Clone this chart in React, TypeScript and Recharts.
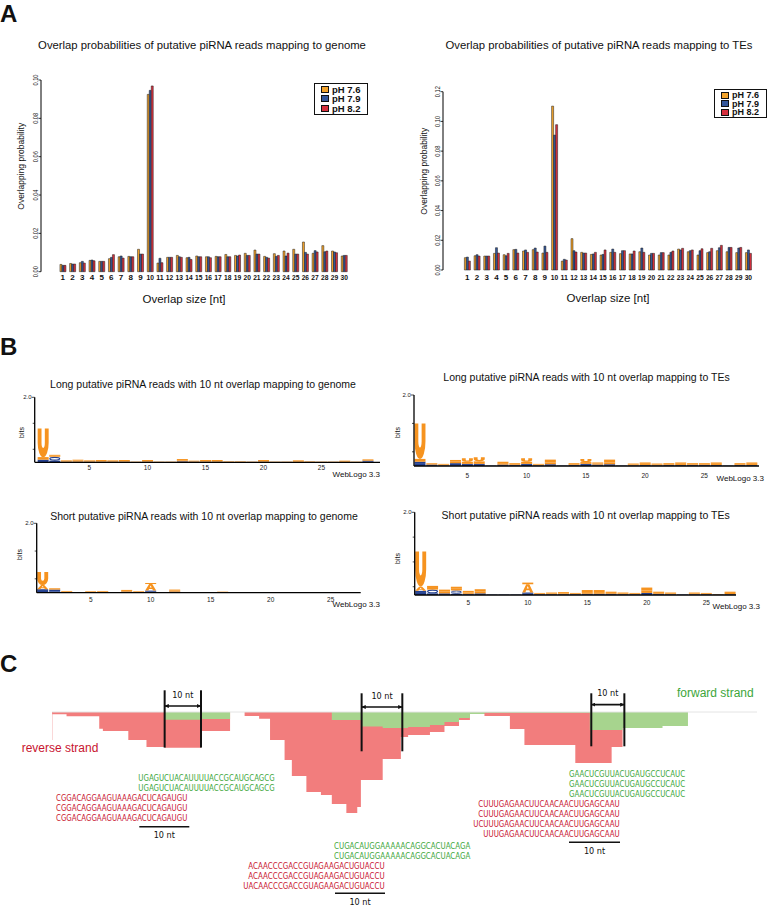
import React from 'react';
import { BarChart, Bar, XAxis, YAxis, Legend, AreaChart, Area, ReferenceLine } from 'recharts';

const SANS = '"Liberation Sans", Arial, Helvetica, sans-serif';
const NARROW = '"Liberation Sans Narrow", "DejaVu Sans Condensed", "Liberation Sans", sans-serif';

// ---------- A: overlap probabilities ----------
const overlapSizes = [1, 2, 3, 4, 5, 6, 7, 8, 9, 10, 11, 12, 13, 14, 15, 16, 17, 18, 19, 20, 21, 22, 23, 24, 25, 26, 27, 28, 29, 30];

const genomePH76 = [0.0038, 0.0043, 0.0047, 0.0059, 0.0054, 0.0068, 0.0078, 0.008, 0.0117, 0.0925, 0.0045, 0.0075, 0.0085, 0.0073, 0.0082, 0.0078, 0.008, 0.009, 0.0085, 0.0096, 0.0113, 0.008, 0.0094, 0.0108, 0.0117, 0.0155, 0.0096, 0.0136, 0.0108, 0.0082];
const genomePH79 = [0.0033, 0.004, 0.0054, 0.0061, 0.0054, 0.0075, 0.0082, 0.0078, 0.0092, 0.0946, 0.007, 0.0075, 0.0078, 0.0075, 0.0078, 0.0078, 0.0078, 0.0078, 0.0082, 0.0085, 0.0092, 0.0075, 0.008, 0.0082, 0.0092, 0.0101, 0.011, 0.0104, 0.0103, 0.0085];
const genomePH82 = [0.0033, 0.004, 0.0045, 0.0057, 0.0054, 0.0089, 0.0071, 0.0078, 0.0092, 0.0969, 0.0047, 0.0075, 0.0075, 0.0064, 0.0078, 0.0073, 0.0078, 0.0078, 0.0087, 0.0085, 0.0092, 0.0071, 0.0085, 0.0097, 0.0092, 0.0092, 0.0103, 0.0108, 0.0099, 0.0085];

const tePH76 = [0.0083, 0.0096, 0.0094, 0.0112, 0.0103, 0.0137, 0.0128, 0.0137, 0.0114, 0.1103, 0.006, 0.0211, 0.0119, 0.0105, 0.0101, 0.0119, 0.011, 0.0108, 0.0123, 0.0101, 0.0101, 0.0101, 0.0141, 0.0123, 0.0101, 0.0117, 0.013, 0.0123, 0.0117, 0.0117];
const tePH79 = [0.0087, 0.0103, 0.0094, 0.015, 0.0096, 0.0139, 0.0135, 0.0148, 0.0161, 0.0908, 0.0072, 0.013, 0.0114, 0.0108, 0.0105, 0.0141, 0.013, 0.0108, 0.0148, 0.0112, 0.0117, 0.0119, 0.0135, 0.013, 0.013, 0.0123, 0.015, 0.0152, 0.0148, 0.0135];
const tePH82 = [0.006, 0.0094, 0.0094, 0.0114, 0.0112, 0.0114, 0.0119, 0.0121, 0.0119, 0.0978, 0.0067, 0.0121, 0.0114, 0.0119, 0.0135, 0.0119, 0.013, 0.0128, 0.0119, 0.0112, 0.0117, 0.0128, 0.0146, 0.0135, 0.0143, 0.0146, 0.0166, 0.0152, 0.0152, 0.0112];

const phNames = ['pH 7.6', 'pH 7.9', 'pH 8.2'];
const phColors = ['#F2A32C', '#34579A', '#D6303E'];

const genomeTicks = [0, 0.02, 0.04, 0.06, 0.08, 0.1];
const teTicks = [0, 0.02, 0.04, 0.06, 0.08, 0.1, 0.12];

// ---------- B: sequence logos (bits per letter) ----------
const longPositions = [1, 2, 3, 4, 5, 6, 7, 8, 9, 10, 11, 12, 13, 14, 15, 16, 17, 18, 19, 20, 21, 22, 23, 24, 25, 26, 27, 28, 29];
const shortPositions = [1, 2, 3, 4, 5, 6, 7, 8, 9, 10, 11, 12, 13, 14, 15, 16, 17, 18, 19, 20, 21, 22, 23, 24, 25, 26, 27];
const logoTicks = [5, 10, 15, 20, 25];
const bitsTicks = [0, 0.2, 0.4, 0.6, 0.8, 1, 1.2, 1.4, 1.6, 1.8, 2];

const longGenomeU = [0.88, 0.03, 0.02, 0.03, 0.02, 0.03, 0.02, 0.03, 0.01, 0.03, 0.01, 0.01, 0.04, 0.02, 0.03, 0.03, 0.01, 0.01, 0.01, 0.03, 0.01, 0.01, 0.03, 0.01, 0.01, 0.01, 0.02, 0.01, 0.02];
const longGenomeA = [0.08, 0.03, 0.02, 0.03, 0.02, 0.02, 0.02, 0.02, 0, 0.02, 0, 0, 0.03, 0.01, 0.02, 0.02, 0.01, 0.01, 0, 0.02, 0, 0, 0.02, 0.01, 0, 0, 0.02, 0, 0.02];
const longGenomeG = [0.04, 0.12, 0.01, 0.01, 0.01, 0.01, 0.01, 0.01, 0.01, 0.01, 0.01, 0.01, 0.02, 0.01, 0.01, 0.01, 0.01, 0.01, 0.01, 0.01, 0.01, 0.01, 0.01, 0.01, 0.01, 0.01, 0.01, 0.01, 0.03];
const longGenomeC = [0.04, 0.05, 0.01, 0.01, 0.01, 0.01, 0.01, 0.01, 0, 0.01, 0, 0, 0.01, 0.01, 0.01, 0.01, 0, 0, 0, 0.01, 0, 0, 0, 0, 0, 0, 0, 0, 0.02];

const longTeU = [1.0, 0.02, 0.02, 0.05, 0.1, 0.12, 0, 0.04, 0.03, 0.1, 0.02, 0.08, 0, 0.03, 0.09, 0.03, 0.08, 0, 0.03, 0.04, 0.03, 0.03, 0.04, 0.03, 0.03, 0.04, 0, 0.03, 0.04];
const longTeA = [0.08, 0.02, 0.02, 0.04, 0.06, 0.07, 0, 0.04, 0.02, 0.06, 0.02, 0.05, 0, 0.02, 0.05, 0.03, 0.05, 0, 0.02, 0.03, 0.02, 0.02, 0.03, 0.02, 0.02, 0.03, 0, 0.02, 0.03];
const longTeG = [0.06, 0.02, 0.01, 0.06, 0.03, 0.03, 0, 0.02, 0.02, 0.03, 0.01, 0.03, 0, 0.02, 0.03, 0.02, 0.03, 0, 0.01, 0.02, 0.01, 0.02, 0.02, 0.02, 0.02, 0.02, 0, 0.02, 0.02];
const longTeC = [0.06, 0.02, 0.01, 0.02, 0.03, 0.03, 0.01, 0.02, 0.01, 0.03, 0.01, 0.02, 0.01, 0.01, 0.03, 0.02, 0.02, 0.01, 0.01, 0.01, 0.01, 0.01, 0.01, 0.01, 0.01, 0.01, 0.01, 0.01, 0.01];

const shortGenomeU = [0.38, 0.02, 0.02, 0.01, 0.02, 0.02, 0.01, 0.03, 0.02, 0.03, 0.01, 0.03, 0.01, 0.01, 0.01, 0.01, 0.01, 0, 0, 0, 0, 0, 0, 0, 0, 0, 0];
const shortGenomeA = [0.12, 0.02, 0.02, 0, 0.01, 0.02, 0, 0.02, 0.01, 0.19, 0, 0.03, 0, 0, 0, 0.01, 0, 0, 0, 0, 0, 0, 0, 0, 0, 0, 0];
const shortGenomeG = [0.05, 0.05, 0.01, 0.01, 0.01, 0.01, 0.01, 0.02, 0.01, 0.03, 0.01, 0.02, 0.01, 0.01, 0.01, 0.01, 0.01, 0.01, 0.01, 0.01, 0.01, 0.01, 0.01, 0.01, 0.01, 0.01, 0.01];
const shortGenomeC = [0.05, 0.04, 0, 0, 0, 0, 0, 0.01, 0, 0.03, 0, 0.01, 0, 0, 0, 0, 0, 0, 0, 0, 0, 0, 0, 0, 0, 0, 0];

const shortTeU = [0.85, 0.05, 0.05, 0.05, 0.04, 0.06, 0, 0, 0, 0.04, 0.02, 0.02, 0.03, 0.02, 0.05, 0.05, 0.03, 0.02, 0.02, 0.07, 0.03, 0.02, 0, 0.02, 0.02, 0.01, 0.03];
const shortTeA = [0.1, 0.04, 0.04, 0.04, 0.03, 0.04, 0, 0, 0, 0.2, 0.01, 0.02, 0.02, 0.01, 0.04, 0.04, 0.02, 0.02, 0.01, 0.06, 0.02, 0.02, 0, 0.02, 0.01, 0, 0.03];
const shortTeG = [0.05, 0.09, 0.02, 0.08, 0.02, 0.02, 0.01, 0.01, 0.01, 0.03, 0.01, 0.01, 0.01, 0.01, 0.02, 0.02, 0.02, 0.01, 0.01, 0.03, 0.02, 0.01, 0.01, 0.01, 0.01, 0.01, 0.01];
const shortTeC = [0.05, 0.04, 0.02, 0.03, 0.01, 0.02, 0, 0, 0, 0.03, 0.01, 0.01, 0.01, 0.01, 0.01, 0.01, 0.01, 0.01, 0.01, 0.02, 0.01, 0.01, 0, 0.01, 0.01, 0, 0.01];

// ---------- C: read coverage (nt position, read depth) ----------
const coveragePos = [0, 4, 13, 14, 21, 26, 31, 41, 49, 53, 57, 60, 64, 66, 70, 74, 77, 81, 84, 85, 91, 96, 98, 104, 108, 112, 115, 119, 126, 130, 144, 148, 154, 157, 168, 175, 194];
const reverseDepth = [2.3, 4.3, 16.7, 19, 28, 35, 35.7, 19, 0, 4, 6.7, 28, 48, 64, 80, 83, 92, 101, 95, 68, 47, 25, 23, 20, 14, 8, 2, 4, 17, 33, 51, 51, 35, 0, 0, 0, 0];
const forwardDepth = [0, 0, 0, 0, 0, 0, 7.7, 7, 0, 0, 0, 0, 0, 0, 0, 0, 8, 8, 8, 14.5, 16, 16, 15, 13, 10, 6, 2, 0.7, 0.7, 0.7, 0.7, 18, 18, 16, 14, 0, 0];
const overlapStart = [31, 85.2, 148.4];
const overlapEnd = [41, 96.4, 157.5];

const reads1Forward = ['UGAGUCUACAUUUUACCGCAUGCAGCG', 'UGAGUCUACAUUUUACCGCAUGCAGCG'];
const reads1Reverse = ['CGGACAGGAAGUAAAGACUCAGAUGU', 'CGGACAGGAAGUAAAGACUCAGAUGU', 'CGGACAGGAAGUAAAGACUCAGAUGU'];
const reads2Forward = ['CUGACAUGGAAAAACAGGCACUACAGA', 'CUGACAUGGAAAAACAGGCACUACAGA'];
const reads2Reverse = ['ACAACCCGACCGUAGAAGACUGUACCU', 'ACAACCCGACCGUAGAAGACUGUACCU', 'UACAACCCGACCGUAGAAGACUGUACCU'];
const reads3Forward = ['GAACUCGUUACUGAUGCCUCAUC', 'GAACUCGUUACUGAUGCCUCAUC', 'GAACUCGUUACUGAUGCCUCAUC'];
const reads3Reverse = ['CUUUGAGAACUUCAACAACUUGAGCAAU', 'CUUUGAGAACUUCAACAACUUGAGCAAU', 'UCUUUGAGAACUUCAACAACUUGAGCAAU', 'UUUGAGAACUUCAACAACUUGAGCAAU'];

const ORANGE = '#F6931F';
const BLUE = '#24408F';
const RED_TXT = '#C8142F';
const GREEN_TXT = '#3DA63A';

const Abs = ({ left, top, children, style }: any) => (
  <div style={{ position: 'absolute', left, top, lineHeight: 1, whiteSpace: 'nowrap', ...style }}>{children}</div>
);

const Centered = ({ cx, top, size, children }: any) => (
  <div style={{ position: 'absolute', left: cx - 250, width: 500, top, textAlign: 'center', fontSize: size, lineHeight: 1, whiteSpace: 'nowrap', color: '#111' }}>{children}</div>
);

const RightText = ({ right, top, size, children }: any) => (
  <div style={{ position: 'absolute', left: right - 120, width: 120, top, textAlign: 'right', fontSize: size, lineHeight: 1, whiteSpace: 'nowrap', color: '#111' }}>{children}</div>
);

const VLabel = ({ cx, cy, size, children }: any) => (
  <div style={{ position: 'absolute', left: cx - 100, top: cy - size / 2, width: 200, height: size, lineHeight: `${size}px`, textAlign: 'center', fontSize: size, transform: 'rotate(-90deg)', color: '#111', whiteSpace: 'nowrap' }}>{children}</div>
);

const RotTick = (props: any) => {
  const { x, y, payload } = props;
  return (
    <g>
      <line x1={x} x2={x - 2.5} y1={y} y2={y} stroke="#000" strokeWidth={0.8} />
      <text x={x - 2.7} y={y} transform={`rotate(-90, ${x - 2.7}, ${y})`} textAnchor="middle" fontSize={6.8} fontFamily={SANS} fill="#111"
        textLength={11} lengthAdjust="spacingAndGlyphs">{Number(payload.value).toFixed(2)}</text>
    </g>
  );
};

const SizeTick = (props: any) => {
  const { x, y, payload } = props;
  const s = String(payload.value);
  const fit = s.length > 1 ? { textLength: 7.4, lengthAdjust: 'spacingAndGlyphs' } : {};
  return (
    <text x={x} y={y} dy="0.71em" textAnchor="middle" fontSize={8} fontWeight={700} fontFamily={SANS} fill="#111" {...fit}>{s}</text>
  );
};

const PhLegend = ({ payload, fontSize, rowH, width }: any) => (
  <div style={{ border: '1.3px solid #111', background: '#fff', width, padding: '1px 0 1px 6px', boxSizing: 'border-box' }}>
    {(payload || []).map((p: any) => (
      <div key={p.value} style={{ display: 'flex', alignItems: 'center', height: rowH, fontSize, fontWeight: 700, lineHeight: `${rowH}px`, color: '#111', whiteSpace: 'nowrap' }}>
        <span style={{ display: 'inline-block', width: 6, height: 5, background: p.color, border: '0.6px solid #111', marginRight: 3, flex: 'none' }} />
        {p.value}
      </div>
    ))}
  </div>
);

const OverlapChart = (props: any) => {
  const { left, a, b, c, yMax, ticks, margin, yWidth, padLeft, tickMargin, legendPos, legendFont, legendRow, legendWidth } = props;
  const data = overlapSizes.map((s, i) => ({ size: s, ph76: a[i], ph79: b[i], ph82: c[i] }));
  const keys = ['ph76', 'ph79', 'ph82'];
  return (
    <div style={{ position: 'absolute', left, top: 0 }}>
      <BarChart width={384} height={320} data={data} margin={margin} barCategoryGap="20%" barGap={0}>
        <XAxis dataKey="size" interval={0} axisLine={false} tickLine={false} tickSize={0} tickMargin={tickMargin} height={32}
          padding={{ left: padLeft, right: 0 }} tick={<SizeTick />} />
        <YAxis domain={[0, yMax]} ticks={ticks} width={yWidth} tickLine={false} tickSize={0} tickMargin={0}
          axisLine={{ stroke: '#000', strokeWidth: 1 }} tick={<RotTick />} />
        <Legend layout="vertical" align="center" verticalAlign="middle"
          wrapperStyle={{ left: legendPos[0], top: legendPos[1], width: legendWidth, right: 'auto', bottom: 'auto' }}
          content={(p: any) => <PhLegend {...p} fontSize={legendFont} rowH={legendRow} width={legendWidth} />} />
        {keys.map((k, i) => (
          <Bar key={k} dataKey={k} name={phNames[i]} fill={phColors[i]} stroke="#1a1a1a" strokeWidth={0.5} isAnimationActive={false} />
        ))}
      </BarChart>
    </div>
  );
};

const Glyph = (props: any) => {
  const { x, y, width: w, height: h, letter } = props;
  if (!h || h <= 0.2 || !w) return <g />;
  const color = letter === 'U' || letter === 'A' ? ORANGE : BLUE;
  if (h < 3) return <rect x={x} y={y} width={w} height={h} fill={color} />;
  if (letter === 'U') {
    const t = w * 0.35;
    const ro = h * 0.5;
    const ri = h * 0.18;
    const d = `M${x},${y} L${x},${y + h - ro} A${w / 2},${ro} 0 0 0 ${x + w},${y + h - ro} L${x + w},${y} L${x + w - t},${y} L${x + w - t},${y + h - ro} A${w / 2 - t},${ri} 0 0 1 ${x + t},${y + h - ro} L${x + t},${y} Z`;
    return <path d={d} fill={color} />;
  }
  if (letter === 'A') {
    const d = `M${x},${y + h} L${x + w * 0.36},${y} L${x + w * 0.64},${y} L${x + w},${y + h} L${x + w * 0.72},${y + h} L${x + w * 0.64},${y + h * 0.74} L${x + w * 0.36},${y + h * 0.74} L${x + w * 0.28},${y + h} Z M${x + w * 0.41},${y + h * 0.52} L${x + w * 0.5},${y + h * 0.22} L${x + w * 0.59},${y + h * 0.52} Z`;
    return <path d={d} fill={color} fillRule="evenodd" />;
  }
  const sw = Math.max(1, Math.min(w, h) * 0.3);
  return <ellipse cx={x + w / 2} cy={y + h / 2} rx={Math.max(0.5, w / 2 - sw / 2)} ry={Math.max(0.5, h / 2 - sw / 2)} fill="none" stroke={color} strokeWidth={sw} />;
};

const BitsTick = (props: any) => {
  const { x, y, payload } = props;
  const v = Number(payload.value);
  const major = Math.abs(v - Math.round(v)) < 1e-6;
  return (
    <g>
      <line x1={x} x2={x - (major ? 3 : 2)} y1={y} y2={y} stroke="#000" strokeWidth={0.7} />
      {major && <text x={x - 3.2} y={y} dy="0.35em" textAnchor="end" fontSize={6} fontFamily={SANS} fill="#222">{v.toFixed(1)}</text>}
    </g>
  );
};

const SequenceLogo = (props: any) => {
  const { left, top, height, margin, yWidth, padLeft, padRight, positions, u, a, g, c, tickMargin } = props;
  const data = positions.map((p: number, i: number) => ({ pos: p, C: c[i], G: g[i], A: a[i], U: u[i] }));
  const letters = ['C', 'G', 'A', 'U'];
  return (
    <div style={{ position: 'absolute', left, top }}>
      <BarChart width={384} height={height} data={data} margin={margin} barCategoryGap="4%">
        <XAxis dataKey="pos" ticks={logoTicks} interval={0} tickLine={false} tickSize={0} tickMargin={tickMargin} height={16}
          padding={{ left: padLeft, right: padRight }} axisLine={{ stroke: '#000', strokeWidth: 1.3 }}
          tick={{ fontSize: 6.5, fontFamily: SANS, fill: '#222' }} />
        <YAxis domain={[0, 2]} ticks={bitsTicks} width={yWidth} tickLine={false} tickSize={0} tickMargin={0}
          axisLine={{ stroke: '#000', strokeWidth: 1.3 }} tick={<BitsTick />} />
        {letters.map((L) => (
          <Bar key={L} dataKey={L} stackId="logo" fill={L === 'U' || L === 'A' ? ORANGE : BLUE} isAnimationActive={false}
            shape={(p: any) => <Glyph {...p} letter={L} />} />
        ))}
      </BarChart>
    </div>
  );
};

const SeqRows = ({ rows, x, y0, anchor, color }: any) => (
  <>
    {rows.map((r: string, i: number) => (
      <text key={i} x={x} y={y0 + i * 10} textAnchor={anchor} fill={color} fontSize={8.5} fontFamily={NARROW}
        textLength={r.length * 5.05} lengthAdjust="spacingAndGlyphs">{r}</text>
    ))}
  </>
);

const ScaleBar = ({ x1, x2, y }: any) => (
  <>
    <line x1={x1} x2={x2} y1={y} y2={y} stroke="#111" strokeWidth={1.6} />
    <text x={(x1 + x2) / 2} y={y + 11.5} textAnchor="middle" fontSize={9} fontFamily={NARROW} fill="#111">10 nt</text>
  </>
);

const CoverageChart = () => {
  const data = coveragePos.map((p, i) => ({ pos: p, reverse: -reverseDepth[i], forward: -forwardDepth[i] }));
  const tops = [21.7, 18.7, 18.7];
  const bottoms = [-35.6, -39.3, -34.3];
  const arrowYs = [6, 5, 7.4];
  return (
    <div style={{ position: 'absolute', left: 52, top: 679.7 }}>
      <AreaChart width={705} height={137} data={data} margin={{ top: 0, right: 0, bottom: 0, left: 0 }}>
        <XAxis type="number" dataKey="pos" domain={[0, 194]} hide />
        <YAxis type="number" domain={[-105, 32]} hide />
        <ReferenceLine y={0} stroke="#e4e4e4" strokeWidth={1} />
        <ReferenceLine segment={[{ x: 0, y: 0 }, { x: 0, y: -28 }]} stroke="#f2a0a0" strokeWidth={0.8} />
        <Area type="stepAfter" dataKey="reverse" fill="#F27D7D" fillOpacity={1} stroke="none" baseValue={0} isAnimationActive={false} />
        <Area type="stepAfter" dataKey="forward" fill="#A7D48E" fillOpacity={1} stroke="none" baseValue={0} isAnimationActive={false} />
        {overlapStart.map((s, i) => (
          <ReferenceLine key={`a${i}`} segment={[{ x: s, y: tops[i] }, { x: s, y: bottoms[i] }]} stroke="#111" strokeWidth={2} />
        ))}
        {overlapEnd.map((e, i) => (
          <ReferenceLine key={`b${i}`} segment={[{ x: e, y: tops[i] }, { x: e, y: bottoms[i] }]} stroke="#111" strokeWidth={2} />
        ))}
        {overlapStart.map((s, i) => (
          <ReferenceLine key={`c${i}`} segment={[{ x: s, y: arrowYs[i] }, { x: overlapEnd[i], y: arrowYs[i] }]} stroke="#111" strokeWidth={1.6}
            markerStart="url(#ntArrow)" markerEnd="url(#ntArrow)"
            label={{ value: '10 nt', position: 'top', offset: 8.5, fontSize: 9, fontFamily: NARROW, fill: '#111' }} />
        ))}
      </AreaChart>
    </div>
  );
};

export default function App() {
  return (
    <div style={{ position: 'absolute', left: 0, top: 0, width: 768, height: 906, background: '#fff', overflow: 'hidden', fontFamily: SANS, color: '#111' }}>
      <svg width={0} height={0} style={{ position: 'absolute' }}>
        <defs>
          <marker id="ntArrow" viewBox="0 0 10 10" refX="10" refY="5" markerWidth="2.6" markerHeight="2.6" orient="auto-start-reverse">
            <path d="M0,0 L10,5 L0,10 z" fill="#111" />
          </marker>
        </defs>
      </svg>

      {/* A */}
      <Abs left={0} top={1.5} style={{ fontSize: 24, fontWeight: 700 }}>A</Abs>
      <Centered cx={202} top={39.5} size={11.3}>Overlap probabilities of putative piRNA reads mapping to genome</Centered>
      <Centered cx={599} top={39.5} size={11.3}>Overlap probabilities of putative piRNA reads mapping to TEs</Centered>
      <OverlapChart left={0} a={genomePH76} b={genomePH79} c={genomePH82} yMax={0.1} ticks={genomeTicks}
        margin={{ top: 80, right: 35, bottom: 16.3, left: 0 }} yWidth={41} padLeft={17} tickMargin={2.4}
        legendPos={[314, 83]} legendFont={9.5} legendRow={9.3} legendWidth={54} />
      <OverlapChart left={384} a={tePH76} b={tePH79} c={tePH82} yMax={0.12} ticks={teTicks}
        margin={{ top: 91.7, right: 14.8, bottom: 18, left: 20 }} yWidth={39} padLeft={19.45} tickMargin={4.4}
        legendPos={[330, 89.3]} legendFont={9} legendRow={8.3} legendWidth={53} />
      <VLabel cx={20.8} cy={165.8} size={8.5}>Overlapping probability</VLabel>
      <VLabel cx={423.7} cy={171.7} size={8.5}>Overlapping probability</VLabel>
      <Centered cx={184} top={293.5} size={11.5}>Overlap size [nt]</Centered>
      <Centered cx={608} top={292.6} size={11.5}>Overlap size [nt]</Centered>

      {/* B */}
      <Abs left={0} top={334.7} style={{ fontSize: 24, fontWeight: 700 }}>B</Abs>
      <Centered cx={203} top={379} size={10.5}>Long putative piRNA reads with 10 nt overlap mapping to genome</Centered>
      <Centered cx={586.5} top={371.6} size={10.5}>Long putative piRNA reads with 10 nt overlap mapping to TEs</Centered>
      <Centered cx={204} top={511} size={10.5}>Short putative piRNA reads with 10 nt overlap mapping to genome</Centered>
      <Centered cx={585.7} top={510} size={10.5}>Short putative piRNA reads with 10 nt overlap mapping to TEs</Centered>
      <SequenceLogo left={0} top={380} height={100} margin={{ top: 17.3, right: 4, bottom: 1.7, left: 0 }} yWidth={34.7}
        padLeft={2.5} padRight={6.4} positions={longPositions} u={longGenomeU} a={longGenomeA} g={longGenomeG} c={longGenomeC} tickMargin={3.4} />
      <SequenceLogo left={384} top={380} height={104} margin={{ top: 15, right: 9, bottom: 2, left: 0 }} yWidth={30}
        padLeft={0} padRight={1.3} positions={longPositions} u={longTeU} a={longTeA} g={longTeG} c={longTeC} tickMargin={7.4} />
      <SequenceLogo left={0} top={505} height={110} margin={{ top: 18.3, right: 23.3, bottom: 6.3, left: 0 }} yWidth={36.7}
        padLeft={0} padRight={0} positions={shortPositions} u={shortGenomeU} a={shortGenomeA} g={shortGenomeG} c={shortGenomeC} tickMargin={4.3} />
      <SequenceLogo left={384} top={500} height={115} margin={{ top: 12.3, right: 32, bottom: 4, left: 0 }} yWidth={30.7}
        padLeft={0} padRight={0} positions={shortPositions} u={shortTeU} a={shortTeA} g={shortTeG} c={shortTeC} tickMargin={5.4} />
      <VLabel cx={20.5} cy={432} size={7}>bits</VLabel>
      <VLabel cx={396.5} cy={432} size={7}>bits</VLabel>
      <VLabel cx={19} cy={554.7} size={7}>bits</VLabel>
      <VLabel cx={396.5} cy={558} size={7}>bits</VLabel>
      <RightText right={380} top={471} size={8}>WebLogo 3.3</RightText>
      <RightText right={764} top={474.5} size={8}>WebLogo 3.3</RightText>
      <RightText right={380} top={601} size={8}>WebLogo 3.3</RightText>
      <RightText right={760} top={602.5} size={8}>WebLogo 3.3</RightText>

      {/* C */}
      <Abs left={0} top={651.7} style={{ fontSize: 24, fontWeight: 700 }}>C</Abs>
      <CoverageChart />
      <Abs left={677} top={686.7} style={{ fontSize: 12, color: GREEN_TXT }}>forward strand</Abs>
      <Abs left={21.7} top={741.7} style={{ fontSize: 12, color: RED_TXT }}>reverse strand</Abs>
      <svg width={768} height={906} style={{ position: 'absolute', left: 0, top: 0, pointerEvents: 'none' }}>
        <SeqRows rows={reads1Forward} x={138.3} y0={780.5} anchor="start" color={GREEN_TXT} />
        <SeqRows rows={reads1Reverse} x={56} y0={800.5} anchor="start" color={RED_TXT} />
        <ScaleBar x1={139.3} x2={189.3} y={826.7} />
        <SeqRows rows={reads2Forward} x={334} y0={848.9} anchor="start" color={GREEN_TXT} />
        <SeqRows rows={reads2Reverse} x={384.7} y0={868.9} anchor="end" color={RED_TXT} />
        <ScaleBar x1={335} x2={385} y={893.3} />
        <SeqRows rows={reads3Forward} x={569} y0={777.2} anchor="start" color={GREEN_TXT} />
        <SeqRows rows={reads3Reverse} x={619.7} y0={807.2} anchor="end" color={RED_TXT} />
        <ScaleBar x1={569} x2={620} y={842.3} />
      </svg>
    </div>
  );
}
